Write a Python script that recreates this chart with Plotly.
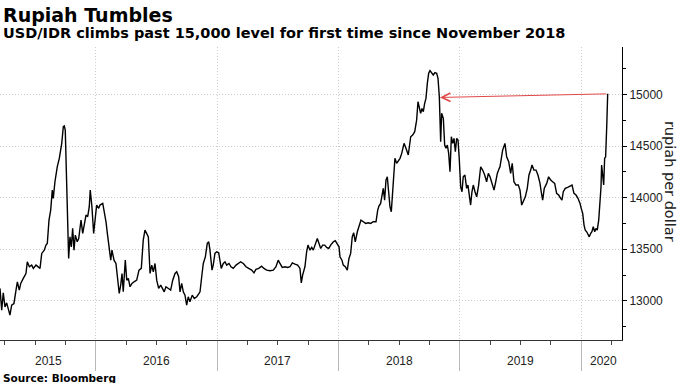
import plotly.graph_objects as go

# time in decimal years, USD/IDR level
t_2015 = [2015.209, 2015.223, 2015.236, 2015.250, 2015.264, 2015.277, 2015.291, 2015.305, 2015.324, 2015.341,
          2015.352, 2015.368, 2015.380, 2015.401, 2015.423, 2015.434, 2015.451, 2015.470, 2015.484, 2015.506,
          2015.525, 2015.539, 2015.553, 2015.574, 2015.588, 2015.599, 2015.613, 2015.627, 2015.640, 2015.648,
          2015.662, 2015.681, 2015.698, 2015.709, 2015.718, 2015.731, 2015.739, 2015.747, 2015.759, 2015.767,
          2015.775, 2015.786, 2015.797, 2015.808, 2015.819, 2015.830, 2015.846, 2015.858, 2015.877, 2015.891,
          2015.907, 2015.918, 2015.932, 2015.945, 2015.953, 2015.967, 2015.981, 2015.995]
v_2015 = [13120, 12909, 13077, 12941, 12980, 12909, 12861, 12958, 12974, 13103,
          13184, 13103, 13168, 13217, 13265, 13378, 13330, 13346, 13314, 13346,
          13330, 13314, 13459, 13491, 13540, 13556, 13782, 13879, 14073, 13993,
          14154, 14299, 14381, 14445, 14526, 14687, 14694, 14655, 14202, 13847,
          13411, 13620, 13523, 13702, 13491, 13637, 13572, 13604, 13782, 13653,
          13750, 13831, 13815, 13912, 14073, 13912, 13653, 13782]

t_2016 = [2016.006, 2016.023, 2016.033, 2016.056, 2016.066, 2016.083, 2016.094, 2016.108, 2016.122, 2016.132,
          2016.149, 2016.165, 2016.179, 2016.192, 2016.204, 2016.215, 2016.225, 2016.242, 2016.254, 2016.267,
          2016.281, 2016.297, 2016.314, 2016.336, 2016.355, 2016.374, 2016.390, 2016.404, 2016.418, 2016.432,
          2016.446, 2016.460, 2016.473, 2016.487, 2016.501, 2016.517, 2016.534, 2016.550, 2016.563, 2016.577,
          2016.596, 2016.616, 2016.633, 2016.652, 2016.666, 2016.682, 2016.693, 2016.707, 2016.720, 2016.734,
          2016.748, 2016.761, 2016.775, 2016.794, 2016.811, 2016.831, 2016.850, 2016.858, 2016.872, 2016.885,
          2016.902, 2016.918, 2016.930, 2016.940, 2016.957, 2016.967, 2016.981, 2016.995]
v_2016 = [13928, 13896, 13928, 13944, 13879, 13766, 13653, 13491, 13394, 13491,
          13394, 13362, 13168, 13071, 13152, 13265, 13087, 13394, 13200, 13217,
          13136, 13168, 13184, 13200, 13297, 13314, 13588, 13685, 13653, 13620,
          13265, 13346, 13281, 13362, 13200, 13120, 13152, 13120, 13087, 13136,
          13120, 13103, 13200, 13265, 13281, 13233, 13087, 13168, 13087, 13055,
          12958, 13039, 12990, 13055, 13022, 13039, 13071, 13087, 13233, 13362,
          13426, 13556, 13572, 13491, 13297, 13346, 13459, 13475]

t_2017 = [2017.012, 2017.023, 2017.033, 2017.050, 2017.064, 2017.078, 2017.097, 2017.113, 2017.132, 2017.155,
          2017.174, 2017.193, 2017.215, 2017.237, 2017.259, 2017.284, 2017.303, 2017.319, 2017.342, 2017.366,
          2017.385, 2017.408, 2017.435, 2017.462, 2017.484, 2017.503, 2017.517, 2017.536, 2017.559, 2017.581,
          2017.600, 2017.619, 2017.641, 2017.663, 2017.682, 2017.693, 2017.704, 2017.723, 2017.737, 2017.748,
          2017.765, 2017.779, 2017.792, 2017.808, 2017.825, 2017.839, 2017.853, 2017.869, 2017.886, 2017.902,
          2017.919, 2017.935, 2017.957, 2017.973, 2017.990]
v_2017 = [13465, 13362, 13314, 13362, 13378, 13346, 13362, 13330, 13314, 13346,
          13362, 13378, 13362, 13330, 13314, 13297, 13271, 13304, 13314, 13336,
          13314, 13297, 13291, 13297, 13330, 13394, 13362, 13323, 13330, 13323,
          13330, 13368, 13355, 13346, 13314, 13174, 13249, 13330, 13475, 13540,
          13491, 13517, 13491, 13540, 13604, 13556, 13507, 13540, 13540, 13517,
          13507, 13540, 13572, 13582, 13556]

t_2018 = [2018.004, 2018.012, 2018.028, 2018.039, 2018.056, 2018.072, 2018.086, 2018.100, 2018.113, 2018.125,
          2018.138, 2018.155, 2018.171, 2018.185, 2018.204, 2018.224, 2018.245, 2018.265, 2018.286, 2018.309,
          2018.323, 2018.333, 2018.347, 2018.358, 2018.369, 2018.380, 2018.391, 2018.402, 2018.413, 2018.424,
          2018.435, 2018.446, 2018.457, 2018.465, 2018.479, 2018.496, 2018.507, 2018.521, 2018.540, 2018.556,
          2018.575, 2018.595, 2018.611, 2018.628, 2018.644, 2018.655, 2018.666, 2018.677, 2018.688, 2018.699,
          2018.710, 2018.721, 2018.732, 2018.743, 2018.754, 2018.768, 2018.781, 2018.795, 2018.809, 2018.820,
          2018.831, 2018.842, 2018.850, 2018.864, 2018.875, 2018.886, 2018.897, 2018.908, 2018.919, 2018.930,
          2018.941, 2018.952, 2018.963, 2018.974, 2018.985, 2018.995]
v_2018 = [13523, 13426, 13394, 13346, 13330, 13297, 13410, 13459, 13620, 13659,
          13572, 13669, 13734, 13782, 13766, 13750, 13756, 13750, 13766, 13766,
          13879, 13918, 13944, 14025, 14090, 13976, 14170, 14202, 14041, 13912,
          13863, 14041, 14202, 14381, 14332, 14364, 14381, 14429, 14526, 14478,
          14413, 14590, 14607, 14639, 14752, 14929, 14881, 14817, 14865, 14833,
          14914, 14962, 15108, 15205, 15231, 15205, 15189, 15211, 15205, 15157,
          14978, 14542, 14817, 14768, 14510, 14478, 14510, 14429, 14251, 14590,
          14526, 14574, 14445, 14574, 14558, 14381]

t_2019 = [2019.007, 2019.018, 2019.028, 2019.042, 2019.056, 2019.067, 2019.078, 2019.089, 2019.100, 2019.111,
          2019.125, 2019.139, 2019.155, 2019.172, 2019.188, 2019.205, 2019.221, 2019.235, 2019.249, 2019.265,
          2019.282, 2019.296, 2019.309, 2019.325, 2019.331, 2019.353, 2019.372, 2019.386, 2019.403, 2019.419,
          2019.432, 2019.446, 2019.463, 2019.482, 2019.496, 2019.510, 2019.523, 2019.540, 2019.556, 2019.570,
          2019.584, 2019.595, 2019.611, 2019.628, 2019.644, 2019.661, 2019.671, 2019.683, 2019.696, 2019.716,
          2019.732, 2019.749, 2019.765, 2019.782, 2019.798, 2019.815, 2019.831, 2019.842, 2019.853, 2019.869,
          2019.889, 2019.908, 2019.925, 2019.941, 2019.958, 2019.974, 2019.991]
v_2019 = [14105, 14057, 14202, 14219, 14090, 14122, 13993, 13928, 14057, 14122,
          14057, 14008, 14122, 14299, 14267, 14219, 14154, 14235, 14202, 14138,
          14073, 14154, 14235, 14284, 14299, 14461, 14526, 14396, 14348, 14235,
          14332, 14154, 14122, 14122, 14073, 13928, 13960, 14008, 14090, 14219,
          14267, 14316, 14267, 14267, 14219, 14138, 14057, 13976, 14090, 14138,
          14202, 14170, 14154, 14138, 14041, 14025, 13993, 13976, 14057, 14090,
          14100, 14112, 14122, 14041, 14025, 13993, 13944]

t_2020 = [2020.001, 2020.013, 2020.024, 2020.034, 2020.046, 2020.056, 2020.067, 2020.079, 2020.089, 2020.100,
          2020.112, 2020.122, 2020.133, 2020.145, 2020.155, 2020.164, 2020.169, 2020.178, 2020.186, 2020.194,
          2020.202, 2020.211, 2020.219]
v_2020 = [13896, 13847, 13734, 13685, 13669, 13637, 13620, 13653, 13669, 13718,
          13669, 13701, 13685, 13782, 13912, 14105, 14316, 14219, 14122, 14381,
          14396, 14687, 15006]

# arrow pointing back to the November 2018 level
arrow_from = (2020.219, 15006)
arrow_to = (2018.836, 14971)

year_labels = ["2015", "2016", "2017", "2018", "2019", "2020"]
year_label_pos = [2015.605, 2016.5, 2017.5, 2018.5, 2019.5, 2020.188]
year_bounds = [2016, 2017, 2018, 2019, 2020]
quarter_ticks = [y + q for y in range(2015, 2021) for q in (0.25, 0.5, 0.75)]
y_ticks = [13000, 13500, 14000, 14500, 15000]

x_range = [2015.209, 2020.337]
y_range = [12620, 15460]

t_all = t_2015 + t_2016 + t_2017 + t_2018 + t_2019 + t_2020
v_all = v_2015 + v_2016 + v_2017 + v_2018 + v_2019 + v_2020

fig = go.Figure()
fig.add_trace(go.Scatter(x=t_all, y=v_all, mode="lines",
                         line=dict(color="#000000", width=1.4), hoverinfo="skip",
                         showlegend=False))

fig.update_layout(
    width=680, height=383,
    margin=dict(l=0, r=58, t=47, b=43),
    paper_bgcolor="white", plot_bgcolor="white",
    showlegend=False,
)

q_vis = [q for q in quarter_ticks if x_range[0] <= q <= x_range[1]]
fig.update_xaxes(
    range=x_range,
    tickmode="array", tickvals=q_vis, ticktext=["" for _ in q_vis],
    ticks="outside", ticklen=4, tickcolor="#444", tickwidth=1,
    showgrid=False, zeroline=False,
    showline=True, linecolor="#333", linewidth=1,
    minor=dict(tickmode="array", tickvals=year_bounds, ticks="outside", ticklen=30,
               tickcolor="#b8b8b8", tickwidth=1, showgrid=True, gridcolor="#cccccc",
               griddash="1px,2px", gridwidth=1),
)

fig.update_yaxes(
    range=y_range, side="right",
    tickmode="array", tickvals=y_ticks, tickformat="d",
    ticks="outside", ticklen=4, tickcolor="#000", tickwidth=1,
    tickfont=dict(family="Liberation Sans", size=12, color="#222"),
    showgrid=True, gridcolor="#cccccc", griddash="1px,2px", gridwidth=1,
    zeroline=False, showline=True, linecolor="#000", linewidth=1,
    minor=dict(dtick=250, tick0=12750, ticks="outside", ticklen=3, tickcolor="#000", showgrid=False),
)

annotations = []
for lab, pos in zip(year_labels, year_label_pos):
    annotations.append(dict(x=pos, y=-0.07, xref="x", yref="paper", text=lab, showarrow=False,
                            xanchor="center", yanchor="middle",
                            font=dict(family="Liberation Sans", size=12, color="#222")))

annotations += [
    dict(x=0, y=1.109, xref="paper", yref="paper", text="Rupiah Tumbles", showarrow=False,
         xanchor="left", yanchor="middle", xshift=1,
         font=dict(family="DejaVu Sans", size=19, color="#000", weight="bold")),
    dict(x=0, y=1.048, xref="paper", yref="paper",
         text="USD/IDR climbs past 15,000 level for first time since November 2018", showarrow=False,
         xanchor="left", yanchor="middle", xshift=1,
         font=dict(family="DejaVu Sans", size=14.5, color="#000", weight="bold")),
    dict(x=0, y=-0.13, xref="paper", yref="paper", text="Source: Bloomberg", showarrow=False,
         xanchor="left", yanchor="middle", xshift=1,
         font=dict(family="DejaVu Sans", size=10.5, color="#000", weight="bold")),
    dict(x=1.077, y=0.54, xref="paper", yref="paper", text="rupiah per dollar", showarrow=False,
         textangle=90, xanchor="center", yanchor="middle",
         font=dict(family="DejaVu Sans", size=14.5, color="#222")),
    dict(x=arrow_to[0], y=arrow_to[1], ax=arrow_from[0], ay=arrow_from[1],
         xref="x", yref="y", axref="x", ayref="y", text="", showarrow=True,
         arrowhead=5, arrowsize=1.7, arrowwidth=1, arrowcolor="#e04848"),
]
fig.update_layout(annotations=annotations)

fig.write_html("out.html", config={"displayModeBar": False},
               post_script="document.body.style.margin='0';document.body.style.overflow='hidden';")
